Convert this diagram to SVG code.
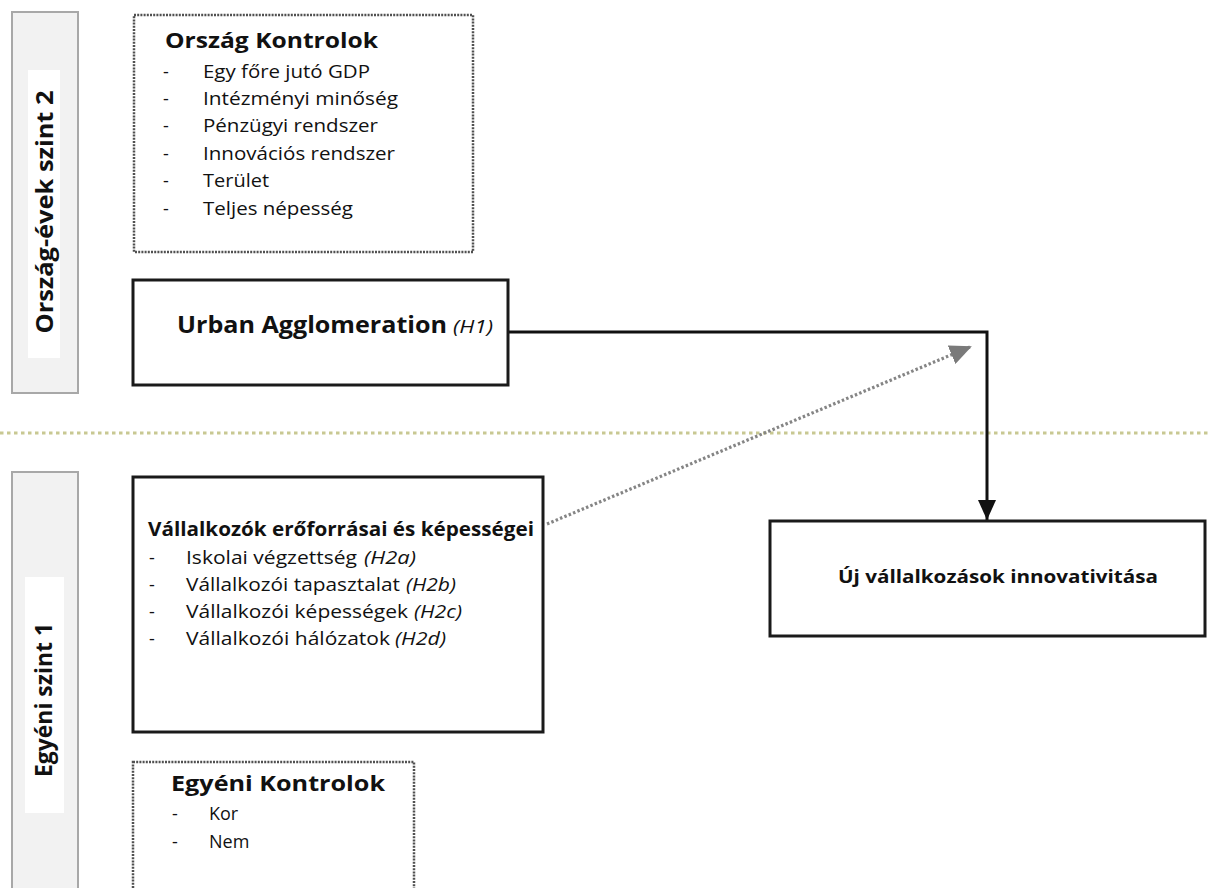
<svg xmlns="http://www.w3.org/2000/svg" width="1211" height="888" viewBox="0 0 1211 888">
  <style>
    text { font-family: "Open Sans", "Noto Sans", "Liberation Sans", sans-serif; fill: #111; }
    .b { font-weight: 700; }
    .item { font-size: 18px; }
    .hyp { font-size: 18px; font-style: italic; }
    .band { fill: #f2f2f2; stroke: #a8a8a8; stroke-width: 2; }
    .bandlabel { fill: #ffffff; stroke: none; }
    .solid { fill: #ffffff; stroke: #1a1a1a; stroke-width: 3; }
    .dotted { fill: #ffffff; stroke: #505050; stroke-width: 2.5; stroke-dasharray: 2 1.2; }
    .link { fill: none; stroke: #111; stroke-width: 3; }
    .moderate { fill: none; stroke: #858585; stroke-width: 3.2; stroke-dasharray: 2.5 2.2; }
    .divider { stroke: #c8c892; stroke-width: 3; stroke-dasharray: 3.5 3.5; }
  </style>
  <defs>
    <marker id="arrowBlack" viewBox="0 0 20 18" refX="20" refY="9" markerWidth="20" markerHeight="18" markerUnits="userSpaceOnUse" orient="auto">
      <path d="M0,0 L20,9 L0,18 Z" fill="#111"/>
    </marker>
    <marker id="arrowGrey" viewBox="0 0 22 20" refX="20" refY="10" markerWidth="22" markerHeight="20" markerUnits="userSpaceOnUse" orient="auto">
      <path d="M0,0 L22,10 L0,20 Z" fill="#7a7a7a"/>
    </marker>
  </defs>

  <!-- level bands on the left -->
  <g id="band-level2">
    <rect class="band" x="12" y="12" width="66" height="381"/>
    <rect class="bandlabel" x="28" y="70" width="32" height="288"/>
    <text class="b" font-size="23" transform="translate(53,212) rotate(-90)" text-anchor="middle" textLength="243" lengthAdjust="spacingAndGlyphs">Ország-évek szint 2</text>
  </g>
  <g id="band-level1">
    <rect class="band" x="12" y="472" width="66" height="440"/>
    <rect class="bandlabel" x="25" y="577" width="39" height="236"/>
    <text class="b" font-size="23" transform="translate(52,700) rotate(-90)" text-anchor="middle" textLength="154" lengthAdjust="spacingAndGlyphs">Egyéni szint 1</text>
  </g>

  <!-- divider between the two levels -->
  <line class="divider" x1="0" y1="433" x2="1211" y2="433"/>

  <!-- connectors -->
  <g id="connectors">
    <path class="link" d="M508,332 H987 V520" marker-end="url(#arrowBlack)"/>
    <line class="moderate" x1="547" y1="524" x2="970" y2="347" marker-end="url(#arrowGrey)"/>
  </g>

  <g id="country-controls">
    <rect class="dotted" x="134" y="15" width="339" height="237"/>
    <text class="b" x="165" y="48" font-size="22" textLength="213" lengthAdjust="spacingAndGlyphs">Ország Kontrolok</text>
    <g class="item">
      <text x="163" y="78">-</text><text x="203" y="78" textLength="167" lengthAdjust="spacingAndGlyphs">Egy főre jutó GDP</text>
      <text x="163" y="105">-</text><text x="203" y="105" textLength="195" lengthAdjust="spacingAndGlyphs">Intézményi minőség</text>
      <text x="163" y="132">-</text><text x="203" y="132" textLength="175" lengthAdjust="spacingAndGlyphs">Pénzügyi rendszer</text>
      <text x="163" y="160">-</text><text x="203" y="160" textLength="192" lengthAdjust="spacingAndGlyphs">Innovációs rendszer</text>
      <text x="163" y="187">-</text><text x="203" y="187" textLength="66" lengthAdjust="spacingAndGlyphs">Terület</text>
      <text x="163" y="215">-</text><text x="203" y="215" textLength="150" lengthAdjust="spacingAndGlyphs">Teljes népesség</text>
    </g>
  </g>

  <g id="urban-agglomeration">
    <rect class="solid" x="133" y="280" width="375" height="105"/>
    <text class="b" x="177" y="333" font-size="24" textLength="270" lengthAdjust="spacingAndGlyphs">Urban Agglomeration</text>
    <text class="hyp" x="453" y="333" textLength="40" lengthAdjust="spacingAndGlyphs">(H1)</text>
  </g>

  <g id="entrepreneur-resources">
    <rect class="solid" x="133" y="477" width="410" height="255"/>
    <text class="b" x="148" y="536" font-size="19" textLength="386" lengthAdjust="spacingAndGlyphs">Vállalkozók erőforrásai és képességei</text>
    <g class="item">
      <text x="149" y="564">-</text><text x="186" y="564" textLength="171" lengthAdjust="spacingAndGlyphs">Iskolai végzettség</text>
      <text class="hyp" x="364" y="564" textLength="52" lengthAdjust="spacingAndGlyphs">(H2a)</text>
      <text x="149" y="591">-</text><text x="186" y="591" textLength="214" lengthAdjust="spacingAndGlyphs">Vállalkozói tapasztalat</text>
      <text class="hyp" x="406" y="591" textLength="50" lengthAdjust="spacingAndGlyphs">(H2b)</text>
      <text x="149" y="618">-</text><text x="186" y="618" textLength="222" lengthAdjust="spacingAndGlyphs">Vállalkozói képességek</text>
      <text class="hyp" x="414" y="618" textLength="48" lengthAdjust="spacingAndGlyphs">(H2c)</text>
      <text x="149" y="645">-</text><text x="186" y="645" textLength="204" lengthAdjust="spacingAndGlyphs">Vállalkozói hálózatok</text>
      <text class="hyp" x="395" y="645" textLength="51" lengthAdjust="spacingAndGlyphs">(H2d)</text>
    </g>
  </g>

  <g id="individual-controls">
    <rect class="dotted" x="133" y="762" width="281" height="150"/>
    <text class="b" x="171" y="791" font-size="22" textLength="214" lengthAdjust="spacingAndGlyphs">Egyéni Kontrolok</text>
    <g class="item">
      <text x="172" y="820">-</text><text x="209" y="820">Kor</text>
      <text x="172" y="848">-</text><text x="209" y="848">Nem</text>
    </g>
  </g>

  <g id="new-venture-innovativeness">
    <rect class="solid" x="770" y="521" width="435" height="115" stroke-width="3.5"/>
    <text class="b" x="838" y="583" font-size="18" textLength="320" lengthAdjust="spacingAndGlyphs">Új vállalkozások innovativitása</text>
  </g>
</svg>
